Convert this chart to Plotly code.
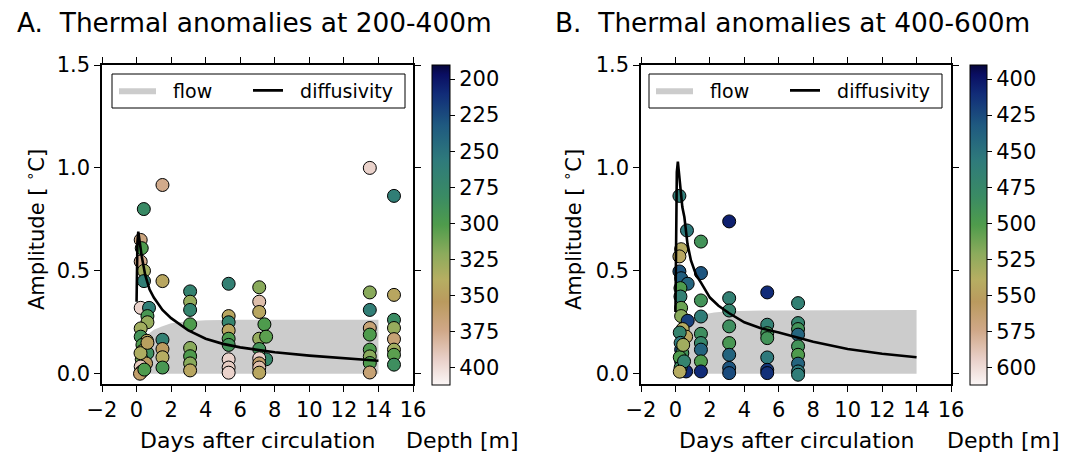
import plotly.graph_objects as go

FONT = "DejaVu Sans"

# ---------------- Panel A (200-400 m) ----------------
a_days = [0.42, 0.24, 0.30, 0.24, 0.43, 0.43, 0.24, 0.72, 0.63, 0.63, 0.24, 0.24, 0.60, 0.34,
          0.34, 0.63, 0.30, 0.55, 0.24, 0.30, 0.20, 0.45, 0.23, 0.63,
          1.5, 1.5, 1.5, 1.5, 1.5, 1.5,
          3.1, 3.1, 3.1, 3.1, 3.1, 3.1, 3.1, 3.1,
          5.33, 5.33, 5.33, 5.33, 5.33, 5.33, 5.33, 5.33, 5.33,
          7.1, 7.1, 7.1, 7.4, 7.1, 7.5, 7.5, 7.1, 7.1, 7.1, 7.1, 7.1,
          13.5, 13.5, 13.5, 13.5, 13.5, 13.5, 13.5, 13.5, 13.5,
          14.9, 14.9, 14.9, 14.9, 14.9, 14.9, 14.9, 14.9]
a_amp = [0.80, 0.65, 0.61, 0.545, 0.50, 0.45, 0.32, 0.32, 0.28, 0.25, 0.22, 0.18, 0.16, 0.14,
         0.11, 0.10, 0.07, 0.05, 0.035, 0.01, 0.0, 0.02, 0.10, 0.15,
         0.917, 0.45, 0.165, 0.12, 0.08, 0.03,
         0.40, 0.35, 0.31, 0.24, 0.125, 0.085, 0.05, 0.016,
         0.437, 0.28, 0.25, 0.21, 0.17, 0.14, 0.07, 0.03, 0.005,
         0.42, 0.35, 0.30, 0.24, 0.17, 0.18, 0.07, 0.12, 0.075, 0.05, 0.03, 0.005,
         1.00, 0.395, 0.31, 0.222, 0.19, 0.117, 0.084, 0.052, 0.006,
         0.864, 0.383, 0.262, 0.222, 0.168, 0.117, 0.092, 0.044]
a_depth = [280, 370, 300, 375, 330, 262, 395, 262, 295, 325, 330, 290, 345, 300,
           330, 285, 310, 355, 390, 330, 360, 300, 335, 350,
           375, 345, 265, 355, 340, 295,
           268, 325, 270, 300, 320, 300, 320, 345,
           265, 345, 270, 345, 300, 290, 395, 392, 395,
           320, 385, 345, 300, 325, 305, 275, 290, 395, 360, 385, 345,
           395, 320, 262, 365, 300, 300, 320, 300, 365,
           262, 345, 282, 325, 365, 330, 305, 285]

flow_a_days = [0.25, 0.5, 0.8, 1.0, 1.5, 2.0, 3.0, 4.0, 6.0, 10.0, 14.0]
flow_a_top = [0.15, 0.18, 0.20, 0.213, 0.23, 0.245, 0.255, 0.26, 0.262, 0.262, 0.262]
flow_a_bottom = [0.0, 0.0, 0.0, 0.0, 0.0, 0.0, 0.0, 0.0, 0.0, 0.0, 0.0]

diff_a_days = [0.0, 0.02, 0.05, 0.1, 0.2, 0.3, 0.5, 0.75, 1.0, 1.5, 2.0, 3.0, 4.0, 5.0, 6.0,
               7.0, 8.0, 10.0, 12.0, 14.0]
diff_a_amp = [0.35, 0.50, 0.64, 0.69, 0.63, 0.57, 0.48, 0.41, 0.37, 0.31, 0.27, 0.21, 0.17,
              0.145, 0.128, 0.115, 0.104, 0.088, 0.074, 0.063]

# ---------------- Panel B (400-600 m) ----------------
b_days = [0.23, 0.67, 0.33, 0.23, 0.23, 0.33, 0.71, 0.29, 0.29, 0.33, 0.33, 0.71, 0.42, 0.62,
          0.33, 0.33, 0.62, 0.25, 0.30, 0.40, 0.25, 0.30, 0.50, 0.25, 0.45,
          1.48, 1.48, 1.48, 1.48, 1.48, 1.48, 1.48, 1.48, 1.48,
          3.12, 3.12, 3.12, 3.12, 3.12, 3.12, 3.12, 3.12,
          5.33, 5.33, 5.33, 5.33, 5.33, 5.33, 5.33,
          7.12, 7.12, 7.12, 7.12, 7.12, 7.12, 7.12, 7.12, 7.12]
b_amp = [0.864, 0.696, 0.605, 0.57, 0.497, 0.464, 0.437, 0.416, 0.375, 0.32, 0.28, 0.257, 0.217,
         0.18, 0.117, 0.06, 0.011, 0.20, 0.15, 0.10, 0.08, 0.03, 0.06, 0.01, 0.14,
         0.642, 0.489, 0.356, 0.278, 0.194, 0.149, 0.117, 0.06, 0.011,
         0.74, 0.367, 0.307, 0.23, 0.149, 0.092, 0.028, 0.003,
         0.395, 0.238, 0.197, 0.173, 0.079, 0.019, 0.003,
         0.343, 0.246, 0.217, 0.19, 0.133, 0.092, 0.049, 0.011, -0.005]
b_depth = [460, 455, 540, 545, 430, 435, 440, 500, 465, 510, 520, 420, 540, 545,
           425, 415, 410, 470, 455, 490, 500, 480, 470, 540, 530,
           490, 430, 490, 460, 485, 475, 440, 500, 410,
           405, 465, 470, 485, 495, 440, 430, 425,
           410, 465, 490, 490, 455, 415, 412,
           465, 470, 490, 440, 490, 500, 440, 455, 460]

flow_b_days = [0.3, 0.6, 1.0, 1.5, 2.25, 3.0, 5.0, 8.0, 11.0, 14.0]
flow_b_top = [0.20, 0.24, 0.27, 0.286, 0.298, 0.303, 0.307, 0.309, 0.31, 0.31]
flow_b_bottom = [0.0, 0.0, 0.0, 0.0, 0.0, 0.0, 0.0, 0.0, 0.0, 0.0]

diff_b_days = [0.0, 0.03, 0.08, 0.14, 0.2, 0.3, 0.4, 0.52, 0.7, 0.9, 1.2, 1.5, 2.0, 2.5, 3.1,
               4.0, 5.0, 6.0, 8.0, 10.0, 12.0, 14.0]
diff_b_amp = [0.30, 0.75, 0.98, 1.03, 0.97, 0.87, 0.81, 0.76, 0.63, 0.55, 0.48, 0.44, 0.37,
              0.33, 0.295, 0.25, 0.22, 0.20, 0.155, 0.12, 0.097, 0.08]

# ---------------- ticks / labels ----------------
x_ticks = [-2, 0, 2, 4, 6, 8, 10, 12, 14, 16]
x_ticktext = ["\u22122", "0", "2", "4", "6", "8", "10", "12", "14", "16"]
y_ticks = [0.0, 0.5, 1.0, 1.5]
y_ticktext = ["0.0", "0.5", "1.0", "1.5"]
cb_a_ticks = [200, 225, 250, 275, 300, 325, 350, 375, 400]
cb_b_ticks = [400, 425, 450, 475, 500, 525, 550, 575, 600]
legend_names = ["flow", "diffusivity"]

# colour scale: position 0 = deepest (white), 1 = shallowest (dark navy)
earth = [
    [0.00, "#fbf6f6"], [0.08, "#e9d0c9"], [0.17, "#d0a888"], [0.26, "#ba9a5e"],
    [0.33, "#b6ae62"], [0.41, "#8cab5c"], [0.50, "#4f9c4c"], [0.59, "#3a8b64"],
    [0.70, "#2f7b7b"], [0.81, "#1f5a80"], [0.91, "#112c78"], [0.97, "#0a0e62"],
    [1.00, "#06063a"],
]

W, H = 1074, 454
NB = "\u00a0\u00a0"


def px_x(v):
    return v / W


def px_y(v):
    return 1 - v / H


fig = go.Figure()


def add_panel(days, amp, depth, fdays, ftop, fbot, ddays, damp, xa, ya, lg_flow, lg_diff,
              cmin, cmax, cb_x, cb_ticks, cb_thick):
    fig.add_trace(go.Scatter(
        x=fdays + fdays[::-1], y=ftop + fbot[::-1],
        fill="toself", fillcolor="#cccccc", line=dict(width=0, color="#cccccc"),
        mode="lines", name=NB + legend_names[0], legend=lg_flow, xaxis=xa, yaxis=ya,
        hoverinfo="skip"))
    fig.add_trace(go.Scatter(
        x=days, y=amp, mode="markers", showlegend=False, xaxis=xa, yaxis=ya,
        marker=dict(size=13, color=[-d for d in depth], colorscale=earth, cmin=cmin, cmax=cmax,
                    line=dict(color="black", width=1), showscale=True,
                    colorbar=dict(x=px_x(cb_x), xanchor="left", xpad=0, ypad=0,
                                  y=px_y(225), yanchor="middle", len=320, lenmode="pixels",
                                  thickness=cb_thick, outlinecolor="black", outlinewidth=1,
                                  tickvals=[-t for t in cb_ticks],
                                  ticktext=[str(t) for t in cb_ticks],
                                  ticks="outside", ticklen=5, tickcolor="black",
                                  tickfont=dict(family=FONT, size=21, color="black")))))
    fig.add_trace(go.Scatter(
        x=ddays, y=damp, mode="lines", name=NB + legend_names[1], legend=lg_diff,
        line=dict(color="black", width=2.6), xaxis=xa, yaxis=ya))


add_panel(a_days, a_amp, a_depth, flow_a_days, flow_a_top, flow_a_bottom, diff_a_days, diff_a_amp,
          "x", "y", "legend", "legend2", -411.8, -190.3, 432, cb_a_ticks, 18)
add_panel(b_days, b_amp, b_depth, flow_b_days, flow_b_top, flow_b_bottom, diff_b_days, diff_b_amp,
          "x2", "y2", "legend3", "legend4", -611.8, -390.3, 970, cb_b_ticks, 17)

axis_common = dict(showline=True, linecolor="black", linewidth=1.5, mirror="ticks",
                   ticks="outside", ticklen=6, tickwidth=1, tickcolor="black",
                   showgrid=False, zeroline=False, automargin=False,
                   tickfont=dict(family=FONT, size=21, color="black"))


def leg(xpx, itemw):
    return dict(x=px_x(xpx), y=px_y(71.5), yanchor="top", xanchor="left", orientation="h",
                borderwidth=0, bgcolor="rgba(0,0,0,0)", itemwidth=itemw,
                font=dict(family=FONT, size=19, color="black"))


ydom = [px_y(384), px_y(65)]
fig.update_layout(
    width=W, height=H, margin=dict(l=0, r=0, t=0, b=0, pad=0, autoexpand=False),
    paper_bgcolor="white", plot_bgcolor="white",
    font=dict(family=FONT, color="black"),
    xaxis=dict(domain=[px_x(102), px_x(413)], range=[-2, 16], tickvals=x_ticks,
               ticktext=x_ticktext, anchor="y", **axis_common),
    yaxis=dict(domain=ydom, range=[-0.05, 1.5], tickvals=y_ticks, ticktext=y_ticktext,
               anchor="x", **axis_common),
    xaxis2=dict(domain=[px_x(641), px_x(951)], range=[-2, 16], tickvals=x_ticks,
                ticktext=x_ticktext, anchor="y2", **axis_common),
    yaxis2=dict(domain=ydom, range=[-0.05, 1.5], tickvals=y_ticks, ticktext=y_ticktext,
                anchor="x2", **axis_common),
    legend=leg(114, 37),
    legend2=leg(248, 30),
    legend3=leg(651, 37),
    legend4=leg(785, 30),
    showlegend=True,
)

# legend frames
for x0, x1 in ((112, 405), (649, 942)):
    fig.add_shape(type="rect", xref="paper", yref="paper",
                  x0=px_x(x0), x1=px_x(x1), y0=px_y(108), y1=px_y(74),
                  line=dict(color="black", width=1), fillcolor="white", layer="above")

ann = []
ann.append(dict(text="A.  Thermal anomalies at 200-400m", x=px_x(15), y=px_y(22),
                xanchor="left", yanchor="middle", font=dict(size=26.4)))
ann.append(dict(text="B.  Thermal anomalies at 400-600m", x=px_x(553), y=px_y(22),
                xanchor="left", yanchor="middle", font=dict(size=26.4)))
for xc in (35, 572):
    ann.append(dict(text="Amplitude [ <sup>\u2218</sup>C]", x=px_x(xc), y=px_y(230), textangle=-90,
                    xanchor="center", yanchor="middle", font=dict(size=21)))
for xc in (257, 796):
    ann.append(dict(text="Days after circulation", x=px_x(xc), y=px_y(440),
                    xanchor="center", yanchor="middle", font=dict(size=22)))
for xc in (462, 1003):
    ann.append(dict(text="Depth [m]", x=px_x(xc), y=px_y(440),
                    xanchor="center", yanchor="middle", font=dict(size=22)))
for a in ann:
    a.update(xref="paper", yref="paper", showarrow=False)
    a["font"].update(family=FONT, color="black")
fig.update_layout(annotations=ann)

fig.write_html("out.html")
